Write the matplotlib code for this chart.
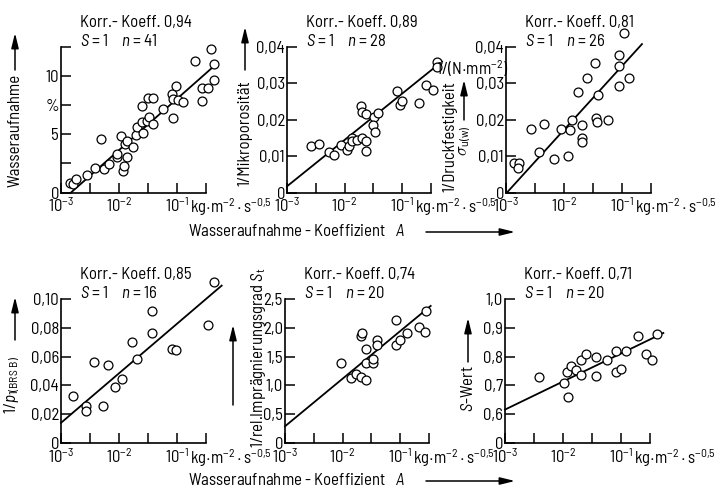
import matplotlib
matplotlib.use('Agg')
import matplotlib.pyplot as plt
from matplotlib import font_manager
from matplotlib.ticker import NullLocator
from matplotlib.patches import FancyArrowPatch

# pick a narrow, DIN-like sans that is installed
names = {f.name for f in font_manager.fontManager.ttflist}
FONT = 'DejaVu Sans'
for fam in ['Barlow Semi Condensed', 'Roboto Condensed', 'Archivo Narrow', 'Roboto']:
    if fam in names:
        FONT = fam
        break

plt.rcParams['font.family'] = [FONT, 'DejaVu Sans']
plt.rcParams['mathtext.fontset'] = 'custom'
plt.rcParams['mathtext.rm'] = FONT
plt.rcParams['mathtext.it'] = FONT + ':italic'
plt.rcParams['mathtext.bf'] = FONT + ':bold'

# --- data (x = Wasseraufnahme-Koeffizient A) ---
# Wasseraufnahme in %
a_wa = [1.43e-3, 1.63e-3, 1.79e-3, 2.77e-3, 3.85e-3, 4.83e-3, 5.51e-3, 6.81e-3, 9.12e-3, 9.35e-3,
        1.08e-2, 1.19e-2, 1.24e-2, 1.39e-2, 1.27e-2, 1.39e-2, 1.77e-2, 1.99e-2, 2.04e-2, 2.46e-2,
        2.52e-2, 2.63e-2, 3.00e-2, 3.29e-2, 3.21e-2, 3.80e-2, 3.80e-2, 5.81e-2, 8.65e-2, 8.32e-2,
        8.65e-2, 9.48e-2, 1.05e-1, 1.29e-1, 2.04e-1, 2.66e-1, 2.74e-1, 3.47e-1, 3.85e-1, 4.35e-1,
        4.35e-1]
wa = [0.78, 0.72, 1.15, 1.49, 2.10, 4.57, 2.01, 2.44, 3.02, 3.30,
      4.89, 1.87, 2.24, 3.02, 4.17, 4.45, 3.94, 4.94, 5.66, 7.47,
      6.03, 5.09, 6.18, 6.47, 8.10, 8.10, 5.89, 7.18, 6.41, 8.48,
      8.05, 9.14, 7.96, 7.76, 11.29, 7.84, 8.97, 8.99, 12.30, 11.06,
      9.68]
fit_wa_a = [1.49e-3, 0.483]
fit_wa = [0.0, 11.06]

# 1/Mikroporositaet
a_mp = [2.59e-3, 3.61e-3, 5.37e-3, 6.55e-3, 8.77e-3, 1.11e-2, 1.19e-2, 1.36e-2, 1.36e-2, 1.61e-2,
        2.02e-2, 2.39e-2, 2.39e-2, 1.94e-2, 2.02e-2, 2.39e-2, 3.21e-2, 3.76e-2, 3.12e-2, 3.42e-2,
        8.09e-2, 9.0e-2, 9.86e-2, 1.94e-1, 2.60e-1, 3.47e-1, 3.96e-1, 3.96e-1]
mp = [0.0127, 0.0133, 0.0110, 0.0104, 0.0130, 0.0118, 0.0127, 0.0150, 0.0141, 0.0143,
      0.0150, 0.0141, 0.0113, 0.0238, 0.0222, 0.0215, 0.0207, 0.0219, 0.0185, 0.0167,
      0.0280, 0.0240, 0.0252, 0.0247, 0.0296, 0.0281, 0.0360, 0.0346]
fit_mp_a = [1.0e-3, 0.49]
fit_mp = [0.0017, 0.0360]

# 1/Druckfestigkeit
a_df = [1.36e-3, 1.65e-3, 1.61e-3, 2.70e-3, 3.66e-3, 4.58e-3, 6.64e-3, 8.87e-3, 1.16e-2, 1.25e-2,
        1.37e-2, 1.72e-2, 2.04e-2, 2.04e-2, 2.04e-2, 2.49e-2, 3.47e-2, 3.61e-2, 3.71e-2, 3.86e-2,
        5.66e-2, 8.77e-2, 8.77e-2, 8.77e-2, 1.07e-1, 1.30e-1]
df = [0.0080, 0.0081, 0.0068, 0.0174, 0.0112, 0.0188, 0.0091, 0.0175, 0.0101, 0.0172,
      0.0200, 0.0276, 0.0186, 0.0149, 0.0140, 0.0314, 0.0357, 0.0206, 0.0194, 0.0267,
      0.0200, 0.0378, 0.0348, 0.0293, 0.0439, 0.0316]
fit_df_a = [1.04e-3, 0.221]
fit_df = [0.0, 0.0408]

# 1/p_1(BRS B)
a_p = [1.63e-3, 2.70e-3, 2.70e-3, 3.76e-3, 5.22e-3, 6.55e-3, 8.53e-3, 1.14e-2, 1.67e-2, 2.02e-2,
       3.76e-2, 3.76e-2, 8.09e-2, 9.62e-2, 3.47e-1, 4.41e-1]
p = [0.0326, 0.0256, 0.0221, 0.0563, 0.0256, 0.0542, 0.0391, 0.0442, 0.0698, 0.0581,
     0.0914, 0.0767, 0.0651, 0.0647, 0.0819, 0.1116]
fit_p_a = [1.0e-3, 0.589]
fit_p = [0.0140, 0.1093]

# 1/rel. Impraegnierungsgrad S_t
a_st = [9.48e-3, 1.41e-2, 1.72e-2, 2.10e-2, 2.10e-2, 2.17e-2, 2.56e-2, 2.56e-2, 2.56e-2, 3.42e-2,
        3.42e-2, 3.91e-2, 3.91e-2, 8.41e-2, 8.41e-2, 9.86e-2, 1.29e-1, 2.13e-1, 2.66e-1, 2.84e-1]
st = [1.39, 1.13, 1.20, 1.15, 1.86, 1.91, 1.63, 1.39, 1.09, 1.39,
      1.46, 1.78, 1.71, 2.14, 1.71, 1.78, 1.91, 2.01, 1.93, 2.29]
fit_st_a = [1.0e-3, 0.338]
fit_st = [0.29, 2.38]

# S-Wert
a_sw = [3.85e-3, 1.05e-2, 1.16e-2, 1.24e-2, 1.36e-2, 1.67e-2, 2.02e-2, 2.02e-2, 2.49e-2, 3.71e-2,
        3.71e-2, 5.66e-2, 8.20e-2, 8.20e-2, 1.0e-1, 1.22e-1, 1.99e-1, 2.70e-1, 3.42e-1, 4.23e-1]
sw = [0.729, 0.708, 0.747, 0.659, 0.769, 0.752, 0.737, 0.789, 0.809, 0.799,
      0.731, 0.789, 0.818, 0.747, 0.758, 0.818, 0.870, 0.809, 0.789, 0.880]
fit_sw_a = [1.0e-3, 0.537]
fit_sw = [0.616, 0.882]

korr = ['0,94', '0,89', '0,81', '0,85', '0,74', '0,71']
n_vals = [41, 28, 26, 16, 20, 20]

x_ticks = [1e-3, 10**-2.5, 1e-2, 10**-1.5, 1e-1, 10**-0.5]
x_ticklabels = ['$10^{-3}$', '', '$10^{-2}$', '', '$10^{-1}$', '']

yt_wa = [0, 2.5, 5, 7.5, 10, 12.5]
yl_wa = ['0', '', '5', '%', '10', '']
yt_mp = [0, 0.01, 0.02, 0.03, 0.04]
yl_mp = ['0', '0,01', '0,02', '0,03', '0,04']
yt_p = [0, 0.02, 0.04, 0.06, 0.08, 0.10]
yl_p = ['0', '0,02', '0,04', '0,06', '0,08', '0,10']
yt_st = [0, 0.5, 1.0, 1.5, 2.0, 2.5]
yl_st = ['0', '0,5', '1,0', '1,5', '2,0', '2,5']
yt_sw = [0.5, 0.6, 0.7, 0.8, 0.9, 1.0]
yl_sw = ['0', '0,6', '0,7', '0,8', '0,9', '1,0']

unit = r'kg$\cdot$m$^{-2}\cdot$s$^{-0{,}5}$'

W, H = 718, 496
fig = plt.figure(figsize=(W / 100, H / 100), dpi=100)

# size the font so that a title line is about as wide as in the scan (~112 px)
probe = fig.text(0, 0, 'Korr.- Koeff. 0,94', fontsize=10)
wpx = probe.get_window_extent(fig.canvas.get_renderer()).width
probe.remove()
FS = max(10.0, min(14.0, 10 * 112 / wpx))
plt.rcParams['font.size'] = FS


def box(l, t, r, b):
    return [l / W, 1 - b / H, (r - l) / W, (b - t) / H]


def ftext(x, y, s, **kw):
    kw.setdefault('fontsize', FS)
    fig.text(x / W, 1 - y / H, s, **kw)


def farrow(x0, y0, x1, y1):
    fig.add_artist(FancyArrowPatch((x0 / W, 1 - y0 / H), (x1 / W, 1 - y1 / H),
                                   transform=fig.transFigure,
                                   arrowstyle='-|>,head_length=0.9,head_width=0.22',
                                   mutation_scale=10, lw=1.1, color='k',
                                   shrinkA=0, shrinkB=0))


panels = [
    (a_wa, wa, fit_wa_a, fit_wa, yt_wa, yl_wa, (61, 47, 206, 192.5)),
    (a_mp, mp, fit_mp_a, fit_mp, yt_mp, yl_mp, (287, 47, 431, 192.5)),
    (a_df, df, fit_df_a, fit_df, yt_mp, yl_mp, (506, 47, 651, 192.5)),
    (a_p, p, fit_p_a, fit_p, yt_p, yl_p, (61, 299, 206, 443)),
    (a_st, st, fit_st_a, fit_st, yt_st, yl_st, (285, 299, 429, 443)),
    (a_sw, sw, fit_sw_a, fit_sw, yt_sw, yl_sw, (505, 299, 650, 443)),
]

for i, (ax_, ay_, fx_, fy_, yt, yl, px) in enumerate(panels):
    ax = fig.add_axes(box(*px))
    ax.plot(fx_, fy_, color='k', lw=1.3, clip_on=False, zorder=2)
    ax.plot(ax_, ay_, 'o', mfc='white', mec='k', mew=0.9, ms=6.4,
            clip_on=False, zorder=3)
    ax.set_xscale('log')
    ax.set_xlim(1e-3, 10**-0.5)
    ax.set_ylim(yt[0], yt[-1])
    ax.set_xticks(x_ticks)
    ax.set_xticklabels(x_ticklabels)
    ax.xaxis.set_minor_locator(NullLocator())
    ax.set_yticks(yt)
    ax.set_yticklabels(yl)
    for s in ['top', 'right']:
        ax.spines[s].set_visible(False)
    for s in ['left', 'bottom']:
        ax.spines[s].set_linewidth(1.2)
    ax.tick_params(direction='in', length=7, width=1.1, pad=3, labelsize=FS)
    ax.tick_params(axis='y', pad=1.5)
    ax.patch.set_alpha(0)
    ax.annotate(unit, xy=(0.1, 0), xycoords=('data', 'axes fraction'),
                xytext=(13, -4), textcoords='offset pixels',
                ha='left', va='top', fontsize=FS)
    # two title lines, left aligned a bit right of the y axis
    ftext(px[0] + 19, px[1] - 24, 'Korr.- Koeff. ' + korr[i], ha='left', va='center')
    ftext(px[0] + 19, px[1] - 6, '$S$ = 1    $n$ = %d' % n_vals[i], ha='left', va='center')

# axis labels with arrows
ftext(15, 130, 'Wasseraufnahme', rotation=90, ha='center', va='center')
farrow(15, 70, 15, 33)
ftext(245, 133, '1/Mikroporosität', rotation=90, ha='center', va='center')
farrow(245, 70, 245, 27)
ftext(450, 137, '1/Druckfestigkeit', rotation=90, ha='center', va='center')
ftext(465, 141, r'$\sigma_{\mathrm{u(w)}}$', rotation=90, ha='center', va='center')
farrow(464, 120, 464, 80)
ftext(472, 69, r'1/(N$\cdot$mm$^{-2}$)', ha='center', va='center')
ftext(12, 385, r'1/$p_{\mathrm{1(BRS\ B)}}$', rotation=90, ha='center', va='center')
farrow(15, 340, 15, 297)
ftext(258, 358, r'1/rel.Imprägnierungsgrad $S_{\mathrm{t}}$', rotation=90,
      ha='center', va='center')
farrow(233, 405, 233, 325)
ftext(468, 389, r'$S$-Wert', rotation=90, ha='center', va='center')
farrow(468, 362, 468, 318)

for yy in (231, 480):
    ftext(188, yy, 'Wasseraufnahme - Koeffizient   $A$', ha='left', va='center')
    farrow(426, yy + 1, 515, yy + 1)

fig.savefig('out.png', dpi=100)
